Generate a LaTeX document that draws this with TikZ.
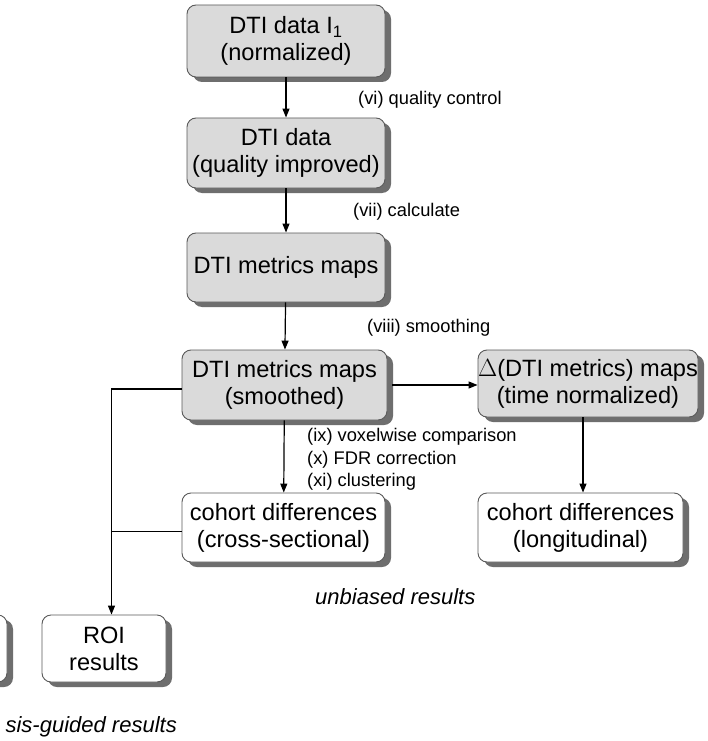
\documentclass[tikz,border=0pt]{standalone}
\usepackage{fontspec}
\setmainfont{Liberation Sans}
\usetikzlibrary{arrows.meta,shadows}
\newcommand\bxfont{\fontsize{23.6}{27}\selectfont}
\newcommand\lbfont{\fontsize{18.3}{22.5}\selectfont}
\newcommand\itfont{\fontsize{22}{26}\selectfont\itshape}
\definecolor{boxgray}{HTML}{DADADA}
\definecolor{shadowgray}{HTML}{6E6E6E}
\definecolor{edgegray}{HTML}{5A5A5A}
\tikzset{
  box/.style={draw=edgegray, line width=0.9pt, rounded corners=9pt, align=center,
    font=\bxfont, inner sep=0pt,
    drop shadow={shadow xshift=6pt, shadow yshift=-5pt, fill=shadowgray, opacity=1}},
  graybox/.style={box, fill=boxgray},
  whitebox/.style={box, fill=white},
  ln/.style={line width=1.2pt, draw=black},
  arr/.style={ln, -{Triangle[length=9pt,width=7pt]}},
  lbl/.style={font=\lbfont, inner sep=0pt, anchor=west, align=left},
  itlbl/.style={font=\itfont, inner sep=0pt},
}
\begin{document}
\begin{tikzpicture}[x=1pt,y=-1pt]
\useasboundingbox (0,0) rectangle (708,741);
\clip (0,0) rectangle (708,741);
\fill[white] (0,0) rectangle (708,741);

% boxes
\node[graybox, minimum width=198pt, minimum height=72pt] (b1) at (286,41)
  {DTI data I\textsubscript{1}\\(normalized)};
\node[graybox, minimum width=198pt, minimum height=70pt] (b2) at (286,153)
  {DTI data\\(quality improved)};
\node[graybox, minimum width=198pt, minimum height=69pt] (b3) at (286,267.5)
  {DTI metrics maps};
\node[graybox, minimum width=205pt, minimum height=70pt] (b4) at (284.5,385)
  {DTI metrics maps\\(smoothed)};
\node[graybox, minimum width=220pt, minimum height=67pt] (b6) at (588,383.5)
  {$\Delta$(DTI metrics) maps\\(time normalized)};
\node[whitebox, minimum width=203pt, minimum height=69pt] (b5) at (283.5,527.5)
  {cohort differences\\(cross-sectional)};
\node[whitebox, minimum width=205pt, minimum height=69pt] (b7) at (580.5,527.5)
  {cohort differences\\(longitudinal)};
\node[whitebox, minimum width=124pt, minimum height=67pt] (roi) at (104,648.5)
  {ROI\\results};
\node[whitebox, minimum width=106pt, minimum height=67pt] (part) at (-46,648.5) {};

% connectors
\coordinate (jx) at (111.5,0);
\draw[arr] (b1) -- (b2);
\draw[arr] (b2) -- (b3);
\draw[arr] (b3) -- (b4);
\draw[arr] (b4) -- (b5);
\draw[arr] ([xshift=5pt]b4.east) -- (b6.west |- b4.east);
\draw[arr] ([xshift=-5pt]b6.south) -- ([xshift=-5pt]b6.south |- b7.north);
\draw[arr] ([yshift=-4pt]b4.west) -| (jx |- roi.north);
\draw[ln] ([yshift=-4pt]b5.west) -- ([yshift=-4pt]b5.west -| jx);

% labels
\node[lbl] (l6) at (358,100) {(vi) quality control};
\node[lbl] (l7) at (353,212) {(vii) calculate};
\node[lbl] (l8) at (367,328) {(viii) smoothing};
\node[lbl] (l9) at (307,459.5) {(ix) voxelwise comparison\\(x) FDR correction\\(xi) clustering};
\node[itlbl, anchor=base west] (ub) at (315,604) {unbiased results};
\node[itlbl, anchor=base east] (hg) at (177,732) {sis-guided results};
\end{tikzpicture}
\end{document}
